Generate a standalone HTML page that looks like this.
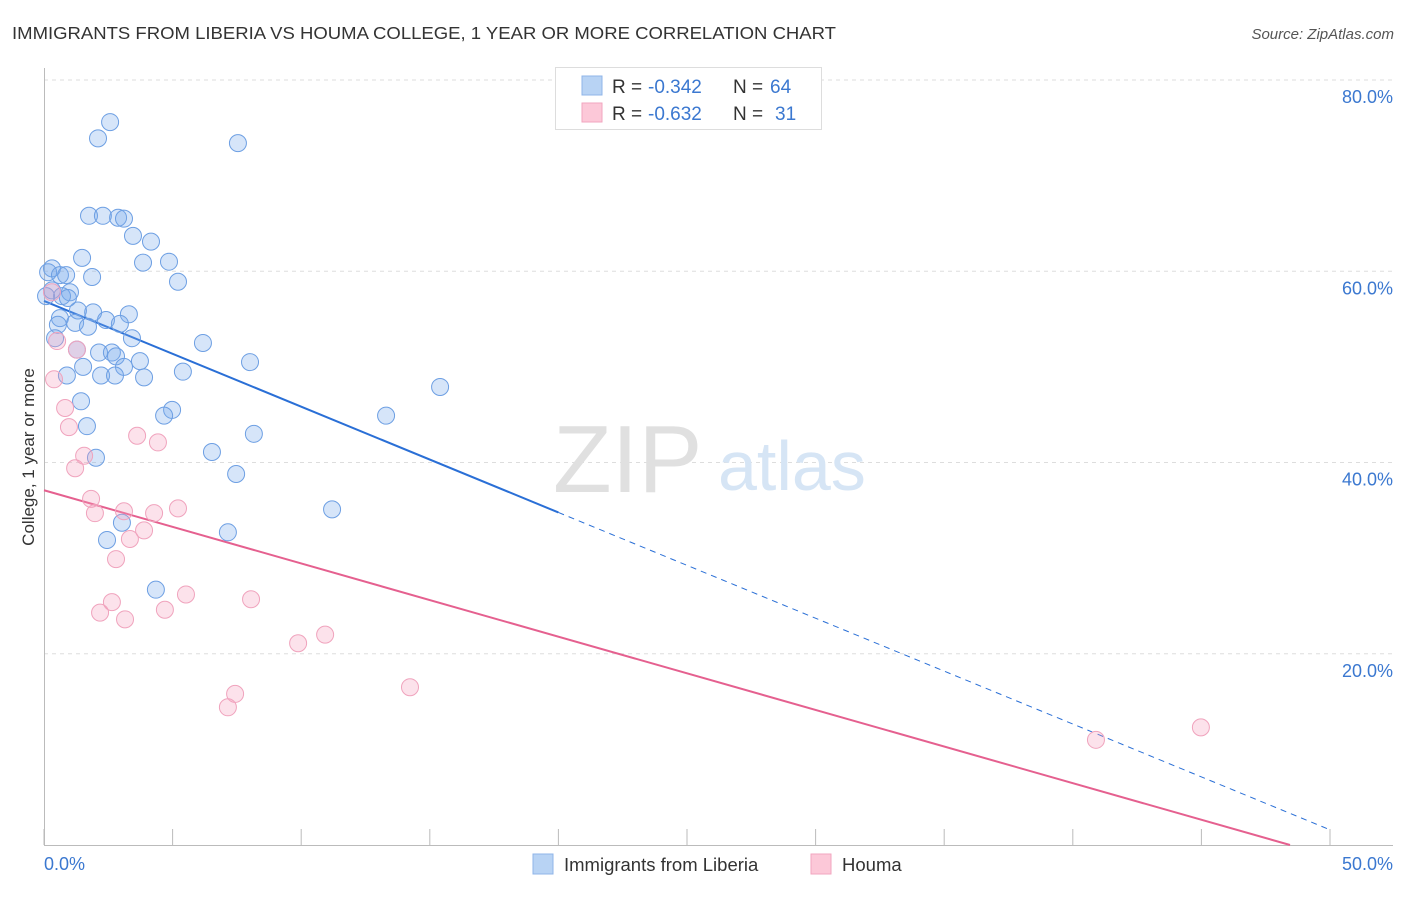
<!DOCTYPE html>
<html><head><meta charset="utf-8"><style>
body{margin:0;background:#fff;font-family:"Liberation Sans",sans-serif;}
svg text{font-family:"Liberation Sans",sans-serif;}
</style></head><body>
<svg id="chart" width="1406" height="892">
<text x="12" y="39" font-size="17.5" fill="#333" textLength="824" lengthAdjust="spacingAndGlyphs">IMMIGRANTS FROM LIBERIA VS HOUMA COLLEGE, 1 YEAR OR MORE CORRELATION CHART</text>
<text x="1394" y="39" font-size="15" fill="#555" font-style="italic" text-anchor="end">Source: ZipAtlas.com</text>
<g id="grid"></g>
<g>
<text x="553" y="492" font-size="96" font-family="Liberation Serif" fill="#e0e0e0">ZIP</text>
<text x="718" y="490" font-size="70" fill="#d6e5f5">atlas</text>
</g>
<g id="axes"></g>
<g id="trend"></g>
<g id="pts"></g>
<text transform="translate(34,457) rotate(-90)" font-size="17" fill="#333" text-anchor="middle">College, 1 year or more</text>
<g>
<rect x="555.5" y="67.5" width="266" height="62" fill="#fff" stroke="#ddd"/>
<rect x="582" y="76" width="20" height="19" fill="#b8d3f4" stroke="#8fb5e8"/>
<rect x="582" y="103" width="20" height="19" fill="#fcc8d8" stroke="#f2a6bf"/>
<g font-size="19">
<text x="612" y="93" fill="#333">R =</text><text x="648" y="93" fill="#3b78d0">-0.342</text>
<text x="733" y="93" fill="#333">N =</text><text x="770" y="93" fill="#3b78d0">64</text>
<text x="612" y="120" fill="#333">R =</text><text x="648" y="120" fill="#3b78d0">-0.632</text>
<text x="733" y="120" fill="#333">N =</text><text x="775" y="120" fill="#3b78d0">31</text>
</g>
</g>
<g>
<rect x="533" y="854" width="20" height="20" fill="#b8d3f4" stroke="#8fb5e8"/>
<text x="564" y="871" font-size="18.5" fill="#333">Immigrants from Liberia</text>
<rect x="811" y="854" width="20" height="20" fill="#fcc8d8" stroke="#f2a6bf"/>
<text x="842" y="871" font-size="18.5" fill="#333">Houma</text>
</g>
</svg>
<script>
const blueX=[2.57,2.10,7.54,1.75,2.29,2.88,3.11,3.46,4.16,3.85,4.86,1.48,0.31,0.16,0.62,0.86,1.87,5.21,0.31,1.01,0.70,0.93,0.08,1.91,1.32,3.30,0.62,2.41,2.95,0.54,1.21,1.71,3.42,0.43,6.18,2.14,2.64,2.80,3.73,1.52,3.11,0.89,2.22,2.76,3.89,5.40,8.01,15.40,13.30,4.98,4.67,1.44,1.67,8.16,6.53,2.02,7.47,11.20,3.03,2.45,7.15,4.35,1.28];
const blueY=[75.6,73.9,73.4,65.8,65.8,65.6,65.5,63.7,63.1,60.9,61.0,61.4,60.3,59.9,59.6,59.6,59.4,58.9,58.0,57.8,57.4,57.2,57.4,55.7,55.9,55.5,55.1,54.9,54.5,54.4,54.6,54.2,53.0,53.0,52.5,51.5,51.5,51.1,50.6,50.0,50.0,49.1,49.1,49.1,48.9,49.5,50.5,47.9,44.9,45.5,44.9,46.4,43.8,43.0,41.1,40.5,38.8,35.1,33.7,31.9,32.7,26.7,51.8];
const pinkX=[0.31,0.51,1.28,0.39,0.82,0.97,1.21,1.56,3.62,4.43,1.83,1.98,3.11,4.28,5.21,3.89,3.34,2.80,2.64,2.18,3.15,4.70,5.52,8.05,9.88,10.93,14.23,7.43,7.15,40.90,44.98];
const pinkY=[57.8,52.7,51.8,48.7,45.7,43.7,39.4,40.7,42.8,42.1,36.2,34.7,34.9,34.7,35.2,32.9,32.0,29.9,25.4,24.3,23.6,24.6,26.2,25.7,21.1,22.0,16.5,15.8,14.4,11.0,12.3];
const blueTrend=[56.9,-1.1062];
const pinkTrend=[37.1,-0.7658];
const yTicks=[20,40,60,80];
const yTickLabels=["20.0%","40.0%","60.0%","80.0%"];
const xTicks=[0,5,10,15,20,25,30,35,40,45,50];

const NS="http://www.w3.org/2000/svg";
const X=v=>44+v*25.72, Y=v=>845-v*9.5625;
function mk(tag,attrs,parent){const e=document.createElementNS(NS,tag);for(const k in attrs)e.setAttribute(k,attrs[k]);document.getElementById(parent).appendChild(e);return e;}
yTicks.forEach((t,i)=>{
 let l=mk('line',{x1:44,x2:1393,y1:Y(t),y2:Y(t),stroke:'#ddd','stroke-dasharray':'4,4'},'grid');
 
 
 let tx=mk('text',{x:1393,y:Y(t)+23,'font-size':18,fill:'#3b78d0','text-anchor':'end'},'grid');
 tx.textContent=yTickLabels[i];
 
 
});
let ax=mk('line',{x1:44,x2:1393,y1:845.5,y2:845.5,stroke:'#bbb'},'axes');


let ay=mk('line',{x1:44.5,x2:44.5,y1:68,y2:845,stroke:'#bbb'},'axes');


xTicks.forEach(t=>{
 let l=mk('line',{x1:X(t),x2:X(t),y1:829,y2:845,stroke:'#bbb'},'axes');
 
 
});
let xl0=mk('text',{x:44,y:870,'font-size':18,fill:'#3b78d0'},'axes');xl0.textContent='0.0%';


let xl1=mk('text',{x:1393,y:870,'font-size':18,fill:'#3b78d0','text-anchor':'end'},'axes');xl1.textContent='50.0%';


const bf=x=>blueTrend[0]+blueTrend[1]*x;
let b1=mk('line',{x1:X(0),y1:Y(bf(0)),x2:X(20),y2:Y(bf(20)),stroke:'#2a6fd6','stroke-width':2},'trend');


let b2=mk('line',{x1:X(20),y1:Y(bf(20)),x2:X(50),y2:Y(bf(50)),stroke:'#2a6fd6','stroke-width':1,'stroke-dasharray':'6,5'},'trend');


const pf=x=>pinkTrend[0]+pinkTrend[1]*x;
const pEnd=-pinkTrend[0]/pinkTrend[1];
let p1=mk('line',{x1:X(0),y1:Y(pf(0)),x2:X(pEnd),y2:Y(0),stroke:'#e5608f','stroke-width':2},'trend');


blueX.forEach((x,i)=>{
 let c=mk('circle',{cx:X(x),cy:Y(blueY[i]),r:8.5,fill:'rgba(120,170,235,0.3)',stroke:'#6d9fe3','stroke-width':1},'pts');
 
 
});
pinkX.forEach((x,i)=>{
 let c=mk('circle',{cx:X(x),cy:Y(pinkY[i]),r:8.5,fill:'rgba(245,160,190,0.3)',stroke:'#f0a3bd','stroke-width':1},'pts');
 
 
});
</script>
</body></html>
